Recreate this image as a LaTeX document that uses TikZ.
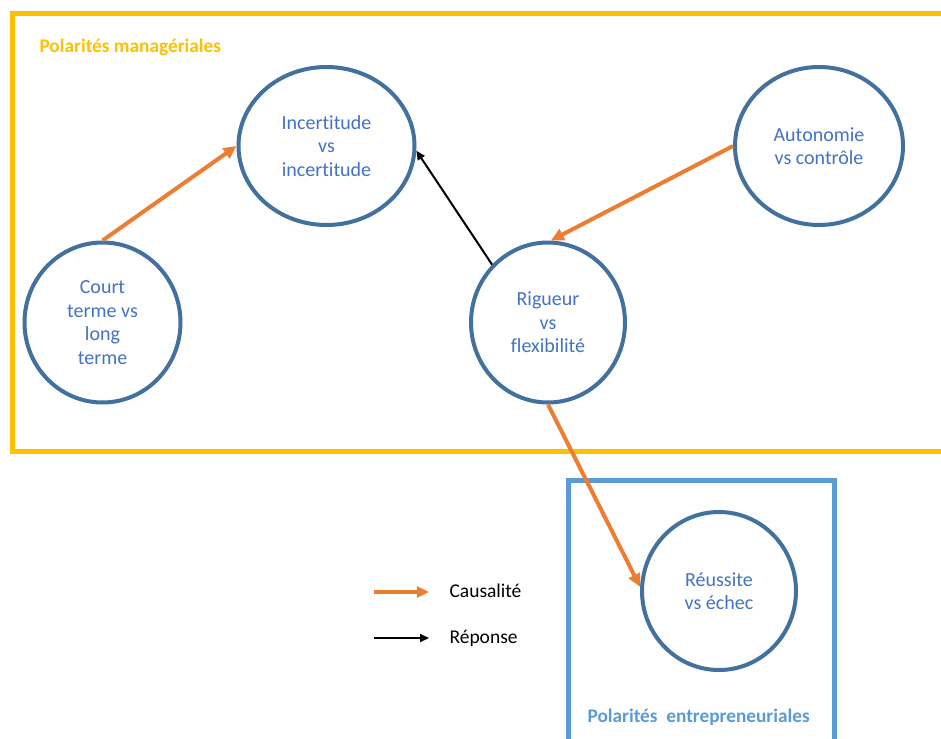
\documentclass[tikz,border=0pt]{standalone}
\usepackage{fontspec}
\setmainfont[Ligatures=CommonOff]{Carlito}
\usetikzlibrary{shapes.geometric,arrows.meta}
\definecolor{yel}{HTML}{FFC000}
\definecolor{org}{HTML}{ED7D31}
\definecolor{circ}{HTML}{41719C}
\definecolor{txt}{HTML}{4472C4}
\definecolor{lblue}{HTML}{5B9BD5}
\tikzset{
  pol/.style={ellipse, draw=circ, line width=4pt, text=txt, inner sep=0pt, align=center,
    font=\fontsize{20}{23.5}\selectfont},
  causal/.style={draw=org, line width=4pt, -{Triangle[length=13pt,width=12pt]}},
  reponse/.style={draw=black, line width=2pt, -{Triangle[length=9pt,width=8pt]}},
  frame/.style={line width=5pt},
  legend/.style={anchor=base west, font=\fontsize{19.5}{22}\selectfont},
  title/.style={anchor=base west, font=\fontsize{19.3}{22}\selectfont\bfseries}
}
\begin{document}
\begin{tikzpicture}[x=1pt,y=-1pt]
\useasboundingbox (0,0) rectangle (941,738);
\fill[white] (0,0) rectangle (941,738);
% frames
\draw[frame, draw=yel] (12,13.5) rectangle (950,451);
\draw[frame, draw=lblue] (568,480.5) rectangle (834.5,750);
\node[title, text=yel] (t1) at (36,53) {Polarités managériales};
\node[title, text=lblue] (t2) at (584,722) {Polarités\ \ entrepreneuriales};
% circles
\node[pol, minimum width=176pt, minimum height=158pt] (incert) at (326.5,146) {Incertitude\\vs\\incertitude};
\node[pol, minimum width=168pt, minimum height=158pt] (auto) at (819,146) {Autonomie\\vs contrôle};
\node[pol, minimum width=156pt, minimum height=160pt] (court) at (102.5,322.5) {Court\\terme vs\\long\\terme};
\node[pol, minimum width=154pt, minimum height=160pt] (rig) at (548,322.5) {Rigueur\\vs\\flexibilité};
\node[pol, minimum width=154pt, minimum height=158pt] (reus) at (719,591) {Réussite\\vs échec};
% connectors
\draw[causal] (court.north) -- (incert.west);
\draw[reponse] (rig.134) -- (incert.-3);
\draw[causal] (auto.west) -- (rig.88);
\draw[causal] (rig.south) -- (reus.177);
% legend
\coordinate (l1a) at (374,592);
\coordinate (l1b) at (429,592);
\coordinate (l2a) at (374,638);
\coordinate (l2b) at (429,638);
\draw[causal, -{Triangle[length=12pt,width=11pt]}] (l1a) -- (l1b);
\draw[reponse] (l2a) -- (l2b);
\node[legend] (lc) at (446,597) {Causalité};
\node[legend] (lr) at (446,643) {Réponse};
\end{tikzpicture}
\end{document}
